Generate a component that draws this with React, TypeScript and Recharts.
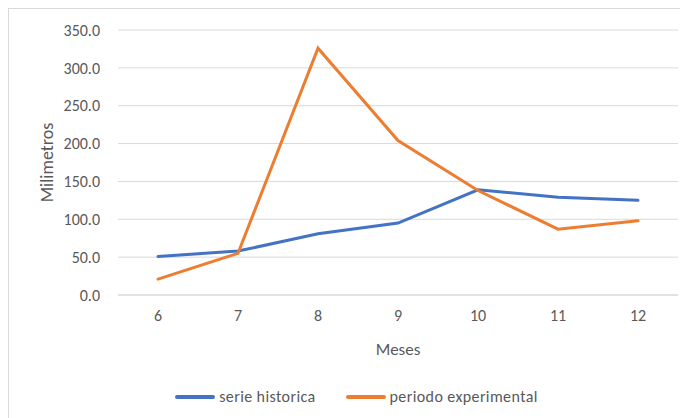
import React from 'react';
import { LineChart, Line, XAxis, YAxis, CartesianGrid, Legend } from 'recharts';

// Monthly rainfall (mm): historical series vs experimental period
const months = ['6', '7', '8', '9', '10', '11', '12'];
const serieHistorica = [51, 58, 81, 95, 139, 129, 125];
const periodoExperimental = [21, 55, 326, 204, 138, 87, 98];
const yTicks = [0, 50, 100, 150, 200, 250, 300, 350];

const data = months.map((mes, i) => ({
  mes,
  historica: serieHistorica[i],
  experimental: periodoExperimental[i],
}));

const FONT = "Carlito, Calibri, 'Liberation Sans', Arial, sans-serif";
const TEXT = '#595959';
const GRID = '#d9d9d9';
const BLUE = '#4472c4';
const ORANGE = '#ed7d31';

const LegendContent = () => {
  const items = [
    { name: 'serie historica', color: BLUE },
    { name: 'periodo experimental', color: ORANGE },
  ];
  return (
    <div style={{ display: 'flex', justifyContent: 'center', paddingTop: 22, paddingLeft: 26, fontFamily: FONT, fontSize: 16, color: TEXT }}>
      {items.map((it, i) => (
        <div key={i} style={{ display: 'flex', alignItems: 'center', marginRight: i === 0 ? 30 : 0 }}>
          <span style={{ display: 'inline-block', width: 40, height: 4, borderRadius: 2, background: it.color, marginRight: 4 }} />
          <span style={{ letterSpacing: 0.4 }}>{it.name}</span>
        </div>
      ))}
    </div>
  );
};

export default function App() {
  return (
    <div style={{ width: 679, height: 409, borderTop: `1px solid ${GRID}`, borderLeft: `1px solid ${GRID}`, background: '#fff' }}>
      <LineChart width={679} height={409} data={data} margin={{ top: 21, right: 10, left: 0, bottom: 0 }}>
        <CartesianGrid vertical={false} stroke={GRID} strokeWidth={1} />
        <XAxis
          dataKey="mes"
          height={70}
          padding={{ left: 40, right: 40 }}
          tickLine={false}
          axisLine={{ stroke: GRID }}
          tickMargin={9}
          tick={{ fill: TEXT, fontSize: 16, fontFamily: FONT }}
          label={{ value: 'Meses', position: 'insideBottom', offset: 10, fill: TEXT, fontSize: 17, fontFamily: FONT }}
        />
        <YAxis
          width={109}
          domain={[0, 350]}
          ticks={yTicks}
          interval={0}
          tickFormatter={(v: number) => v.toFixed(1)}
          tickLine={false}
          axisLine={false}
          tickMargin={12}
          tick={{ fill: TEXT, fontSize: 16, fontFamily: FONT }}
          label={{ value: 'Milimetros', angle: -90, position: 'insideLeft', offset: 38, fill: TEXT, fontSize: 18, fontFamily: FONT, style: { textAnchor: 'middle' } }}
        />
        <Legend verticalAlign="bottom" height={53} content={<LegendContent />} />
        <Line type="linear" dataKey="historica" name="serie historica" stroke={BLUE} strokeWidth={3} strokeLinecap="round" dot={false} isAnimationActive={false} />
        <Line type="linear" dataKey="experimental" name="periodo experimental" stroke={ORANGE} strokeWidth={3} strokeLinecap="round" dot={false} isAnimationActive={false} />
      </LineChart>
    </div>
  );
}
